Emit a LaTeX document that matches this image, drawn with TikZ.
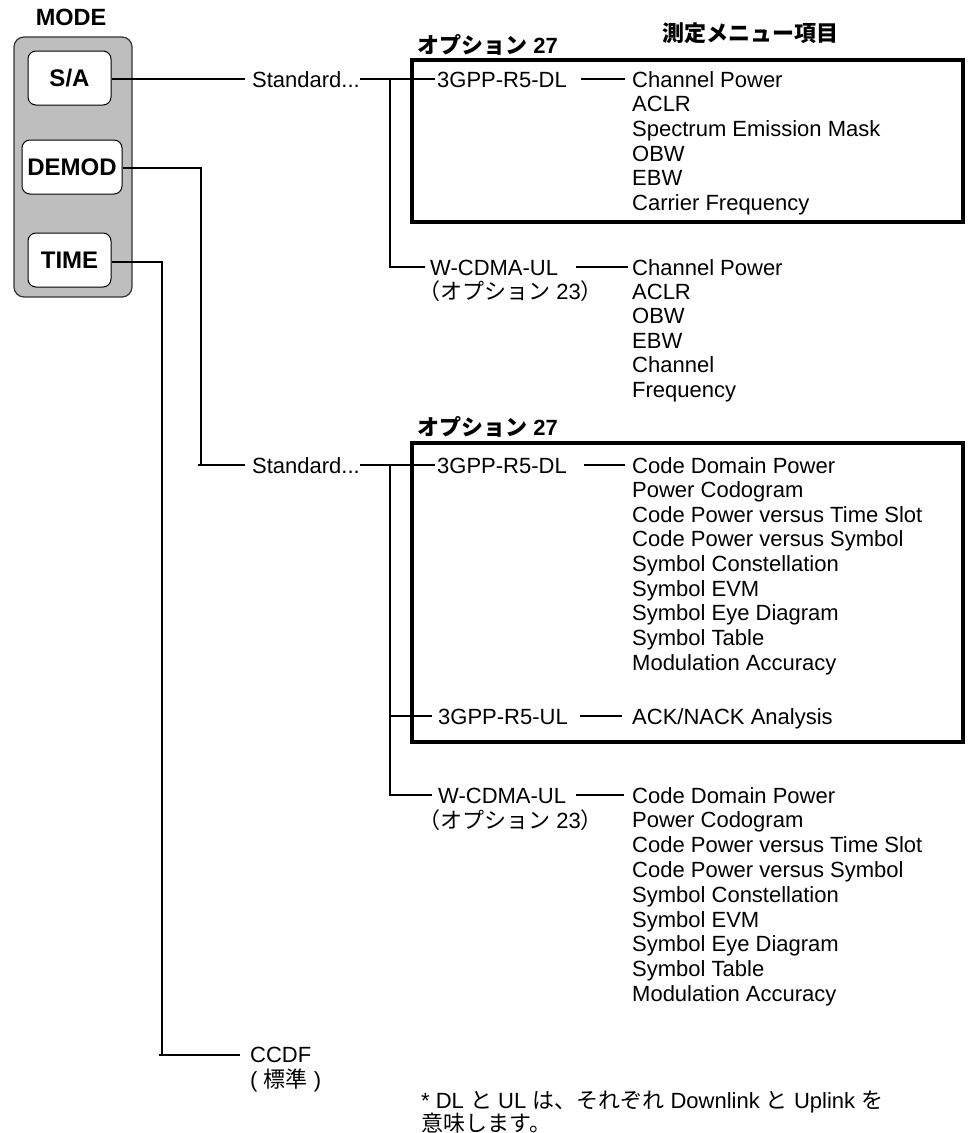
\documentclass[tikz,border=0pt]{standalone}
\usepackage{fontspec}
\setmainfont{Liberation Sans}
\newfontfamily\jp{Noto Sans CJK JP}
\definecolor{panelgray}{RGB}{190,190,190}
\tikzset{
  txt/.style={anchor=west, inner sep=0pt, text height=16pt, text depth=0pt, font=\fontsize{22}{26}\selectfont},
  hdr/.style={anchor=west, inner sep=0pt, text height=16pt, text depth=0pt, font=\fontsize{22}{26}\selectfont\bfseries},
  btn/.style={draw=black, line width=1pt, fill=white, rounded corners=8pt, font=\fontsize{24}{28}\selectfont\bfseries, inner sep=0pt, minimum height=54pt},
  wire/.style={line width=1.6pt},
  frame/.style={line width=3.2pt},
}
\begin{document}
\begin{tikzpicture}[x=1pt,y=-1pt]
\useasboundingbox (0,0) rectangle (972,1133);

% MODE panel
\node[hdr, anchor=center, font=\fontsize{23.5}{28}\selectfont\bfseries] (mode) at (71,17) {MODE};
\node[draw=black!80, line width=1.2pt, fill=panelgray, rounded corners=10pt, minimum width=118pt, minimum height=260pt] (panel) at (73,167) {};
\node[btn, minimum width=83pt] (sa) at (69.5,78) {S/A};
\node[btn, minimum width=100pt] (demod) at (72,167) {DEMOD};
\node[btn, minimum width=83pt] (time) at (69.5,260) {TIME};

% headers
\node[hdr] (menuhdr) at (662,33) {\jp 測定メニュー項目};
\node[hdr] (opt1) at (417,45) {{\jp オプション} 27};
\node[hdr] (opt2) at (417,427) {{\jp オプション} 27};

% frames
\draw[frame] (412,60) rectangle (963,222);
\draw[frame] (412,443) rectangle (963,742);

% ---- S/A branch ----
\node[txt] (std1) at (252,79) {Standard...};
\node[txt] (dl1) at (437,79) {3GPP-R5-DL};
\node[txt] (wul1) at (430,267) {W-CDMA-UL};
\node[txt] (o23a) at (418,291) {{\jp （オプション} 23{\jp ）}};
\coordinate (j1) at (390,79);

\foreach \t [count=\i from 0] in {Channel Power, ACLR, Spectrum Emission Mask, OBW, EBW, Carrier Frequency}
  \node[txt] (sadl\i) at (632,{79+24.7*\i}) {\t};
\foreach \t [count=\i from 0] in {Channel Power, ACLR, OBW, EBW, Channel, Frequency}
  \node[txt] (saul\i) at (632,{267+24.4*\i}) {\t};

\draw[wire] (sa.east |- j1) -- ([xshift=-7pt]std1.west);
\draw[wire] (std1.east) -- ([xshift=-2pt]dl1.west);
\draw[wire] (j1) |- ([xshift=-5pt]wul1.west);
\draw[wire] ([xshift=14pt]dl1.east) -- ([xshift=-7pt]sadl0.west);
\draw[wire] ([xshift=18pt]wul1.east) -- ([xshift=-4pt]saul0.west);

% ---- DEMOD branch ----
\node[txt] (std2) at (252,465) {Standard...};
\node[txt] (dl2) at (437,465) {3GPP-R5-DL};
\node[txt] (ul2) at (438,716) {3GPP-R5-UL};
\node[txt] (wul2) at (438,795) {W-CDMA-UL};
\node[txt] (o23b) at (418,820) {{\jp （オプション} 23{\jp ）}};
\coordinate (j2) at (201,465);
\coordinate (j3) at (390,465);
\coordinate (j3b) at (390,716);

\foreach \t [count=\i from 0] in {Code Domain Power, Power Codogram, Code Power versus Time Slot, Code Power versus Symbol, Symbol Constellation, Symbol EVM, Symbol Eye Diagram, Symbol Table, Modulation Accuracy}
  \node[txt] (dmdl\i) at (632,{465+24.65*\i}) {\t};
\node[txt] (ack) at (632,716) {ACK/NACK Analysis};
\foreach \t [count=\i from 0] in {Code Domain Power, Power Codogram, Code Power versus Time Slot, Code Power versus Symbol, Symbol Constellation, Symbol EVM, Symbol Eye Diagram, Symbol Table, Modulation Accuracy}
  \node[txt] (dmul\i) at (632,{795+24.8*\i}) {\t};

\draw[wire] (demod.east |- 0,168) -| (j2);
\draw[wire] ([xshift=-3pt]j2) -- ([xshift=-7pt]std2.west);
\draw[wire] (std2.east) -- ([xshift=-2pt]dl2.west);
\draw[wire] (j3) |- ([xshift=-6pt]wul2.west);
\draw[wire] (j3b) -- ([xshift=-6pt]ul2.west);
\draw[wire] ([xshift=17pt]dl2.east) -- ([xshift=-7pt]dmdl0.west);
\draw[wire] ([xshift=12pt]ul2.east) -- ([xshift=-10pt]ack.west);
\draw[wire] ([xshift=10pt]wul2.east) -- ([xshift=-8pt]dmul0.west);

% ---- TIME branch ----
\node[txt] (ccdf) at (250,1054) {CCDF};
\node[txt] (std) at (250,1079) {( {\jp 標準} )};
\coordinate (j4) at (162,1055);
\draw[wire] (time.east |- 0,262) -| (j4);
\draw[wire] ([xshift=-3pt]j4) -- ([xshift=-10pt]ccdf.west |- j4);

% footnote
\node[txt] (fn1) at (421,1100) {* DL {\jp と} UL {\jp は、それぞれ} Downlink {\jp と} Uplink {\jp を}};
\node[txt] (fn2) at (421,1123) {\jp 意味します。};
\end{tikzpicture}
\end{document}
